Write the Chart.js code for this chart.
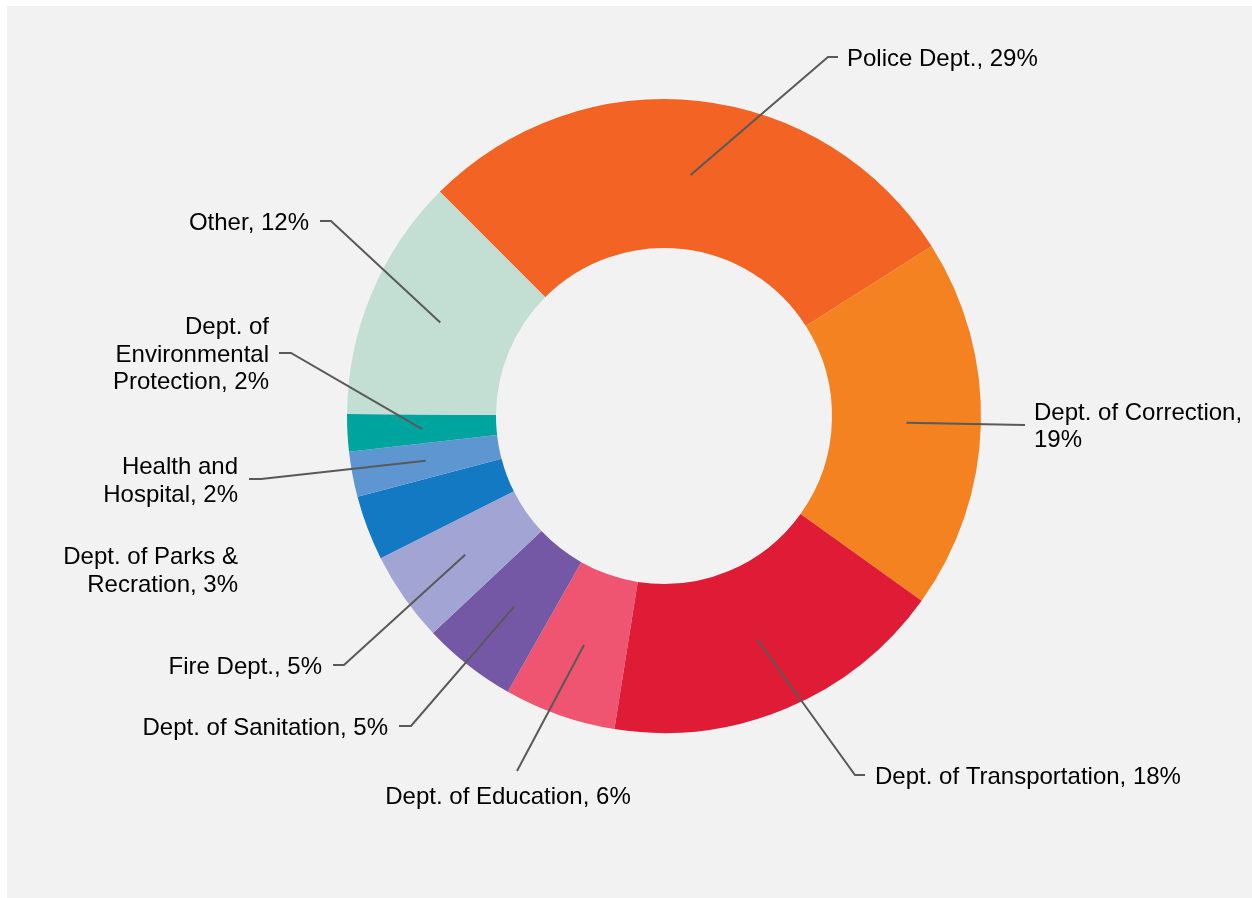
<!DOCTYPE html>
<html>
<head>
<meta charset="utf-8">
<script src="https://cdn.jsdelivr.net/npm/chart.js@4/dist/chart.umd.min.js"></script>
<style>
  html, body { margin: 0; padding: 0; background: #ffffff; }
  #chart { display: block; }
</style>
</head>
<body>
<canvas id="chart" width="1252" height="898"></canvas>
<script>
// --- data ---
const departments = [
    'Police Dept.',
    'Dept. of Correction',
    'Dept. of Transportation',
    'Dept. of Education',
    'Dept. of Sanitation',
    'Fire Dept.',
    'Dept. of Parks &\nRecration',
    'Health and\nHospital',
    'Dept. of\nEnvironmental\nProtection',
    'Other'
];
// share of total
const shares = [28.5, 18.9, 17.6, 5.7, 4.8, 4.6, 3.3, 2.3, 1.9, 12.4];
// rounded percentages shown in the labels
const shownPct = [29, 19, 18, 6, 5, 5, 3, 2, 2, 12];

const sliceColors = [
    '#f26324', '#f58220', '#e01b35', '#ef5470', '#7558a5',
    '#a2a5d4', '#1479c3', '#5e96d1', '#00a49f', '#c3dfd4'
];

// label placement (page px): elbow point, end of the short tick, text anchor
const labelLayout = [
    { elbow: [828, 57],  end: [838, 57],  tx: 847,  ty: 57,    align: 'left',   sep: ', ' },
    { elbow: [1025, 425], end: [1025, 425], tx: 1034, ty: 425,  align: 'left',   sep: ',\n' },
    { elbow: [855, 775], end: [865, 775], tx: 875,  ty: 775,   align: 'left',   sep: ', ' },
    { elbow: [517, 771], end: [517, 771], tx: 508,  ty: 795,   align: 'center', sep: ', ' },
    { elbow: [411, 726], end: [399, 726], tx: 388,  ty: 726,   align: 'right',  sep: ', ' },
    { elbow: [344, 665], end: [333, 665], tx: 322,  ty: 665,   align: 'right',  sep: ', ' },
    { elbow: null,       end: null,       tx: 238,  ty: 569.5, align: 'right',  sep: ', ' },
    { elbow: [261, 479], end: [249, 479], tx: 238,  ty: 479.5, align: 'right',  sep: ', ' },
    { elbow: [291, 353], end: [279, 353], tx: 269,  ty: 353,   align: 'right',  sep: ', ' },
    { elbow: [331, 221], end: [320, 221], tx: 309,  ty: 221,   align: 'right',  sep: ', ' }
];

const FONT = '24px "Liberation Sans", Arial, sans-serif';
const LINE_H = 27.5;
const TEXT_NUDGE = 2; // 'middle' baseline sits a touch high

// grey panel behind the chart
const panelBg = {
    id: 'panelBg',
    beforeDraw(chart) {
        const ctx = chart.ctx;
        ctx.save();
        ctx.fillStyle = '#ffffff';
        ctx.fillRect(0, 0, chart.width, chart.height);
        ctx.fillStyle = '#f2f2f2';
        ctx.fillRect(7, 6, chart.width - 7, chart.height - 6);
        ctx.restore();
    }
};

// leader lines + labels
const sliceLabels = {
    id: 'sliceLabels',
    afterDatasetsDraw(chart) {
        const ctx = chart.ctx;
        const arcs = chart.getDatasetMeta(0).data;
        ctx.save();
        ctx.strokeStyle = '#595959';
        ctx.lineWidth = 2;
        ctx.font = FONT;
        ctx.fillStyle = '#000000';
        ctx.textBaseline = 'middle';

        arcs.forEach((arc, i) => {
            const lay = labelLayout[i];
            if (lay.elbow) {
                const p = arc.tooltipPosition();
                ctx.beginPath();
                ctx.moveTo(p.x, p.y);
                ctx.lineTo(lay.elbow[0], lay.elbow[1]);
                ctx.lineTo(lay.end[0], lay.end[1]);
                ctx.stroke();
            }
            const text = departments[i] + lay.sep + shownPct[i] + '%';
            const lines = text.split('\n');
            const top = lay.ty + TEXT_NUDGE - (lines.length - 1) * LINE_H / 2;
            ctx.textAlign = lay.align;
            lines.forEach((ln, k) => ctx.fillText(ln, lay.tx, top + k * LINE_H));
        });
        ctx.restore();
    }
};

new Chart(document.getElementById('chart').getContext('2d'), {
    type: 'doughnut',
    data: {
        labels: departments,
        datasets: [{
            data: shares,
            backgroundColor: sliceColors,
            borderWidth: 0,
            hoverOffset: 0,
            offset: 0
        }]
    },
    options: {
        responsive: false,
        animation: false,
        events: [],
        rotation: -45,
        cutout: '53%',
        layout: {
            padding: { left: 347, top: 99, right: 271, bottom: 165 }
        },
        plugins: {
            legend: { display: false },
            tooltip: { enabled: false },
            title: { display: false }
        }
    },
    plugins: [panelBg, sliceLabels]
});
</script>
</body>
</html>
